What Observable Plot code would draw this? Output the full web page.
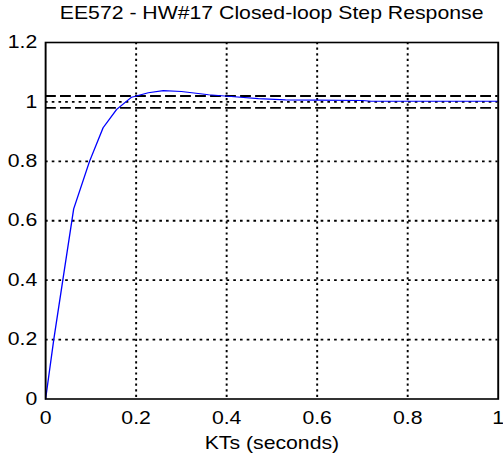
<!DOCTYPE html>
<html>
<head>
<meta charset="utf-8">
<script src="https://cdn.jsdelivr.net/npm/d3@7"></script>
<script src="https://cdn.jsdelivr.net/npm/@observablehq/plot@0.6"></script>
<style>
  html, body { margin: 0; padding: 0; background: #fff; }
  #wrap { width: 419px; transform: scaleX(1.2005); transform-origin: 0 0; font-family: "Liberation Sans", Arial, sans-serif; }
  #title { height: 30px; line-height: 26px; font-size: 17.7px; color: #000; text-align: center; padding-left: 37.5px; padding-right: 4px; box-sizing: border-box; white-space: nowrap; }
</style>
</head>
<body>
<div id="wrap">
  <div id="title">EE572 - HW#17 Closed-loop Step Response</div>
  <div id="chart"></div>
</div>
<script>
const titleText = "EE572 - HW#17 Closed-loop Step Response";
const xLabel = "KTs (seconds)";
const time = [0, 0.018, 0.038, 0.062, 0.097, 0.127, 0.157, 0.19, 0.227, 0.26, 0.30, 0.36, 0.41, 0.47, 0.53, 0.60, 0.70, 0.72, 0.85, 1.0];
const response = [0, 0.2, 0.40, 0.64, 0.80, 0.913, 0.975, 1.016, 1.031, 1.038, 1.035, 1.024, 1.018, 1.011, 1.007, 1.006, 1.005, 1.002, 1.002, 1.002];
const bandLimits = [0.98, 1.02];
const xTicks = [0, 0.2, 0.4, 0.6, 0.8, 1];
const yTicks = [0, 0.2, 0.4, 0.6, 0.8, 1, 1.2];
const xGrid = [0.2, 0.4, 0.6, 0.8];
const yGrid = [0.2, 0.4, 0.6, 0.8, 1];

const data = time.map((t, i) => ({t, v: response[i]}));

const chart = Plot.plot({
  width: 419,
  height: 427,
  marginLeft: 37.5,
  marginRight: 4.5,
  marginTop: 12,
  marginBottom: 58.5,
  style: {fontFamily: "'Liberation Sans', Arial, sans-serif", fontSize: "17.7px", color: "#000", background: "#fff"},
  x: {domain: [0, 1]},
  y: {domain: [0, 1.2]},
  marks: [
    Plot.gridX(xGrid, {stroke: "black", strokeOpacity: 1, strokeWidth: 1.6, strokeDasharray: "2.2,3.4"}),
    Plot.gridY(yGrid, {stroke: "black", strokeOpacity: 1, strokeWidth: 1.8, strokeDasharray: "2.2,3.4"}),
    Plot.ruleY(bandLimits, {stroke: "black", strokeWidth: 1.8, strokeDasharray: "9,3.5"}),
    Plot.line(data, {x: "t", y: "v", stroke: "#0000ff", strokeWidth: 1.1}),
    Plot.frame({stroke: "black", strokeWidth: 1.6}),
    Plot.axisX(xTicks, {tickSize: 0, tickPadding: 12, tickFormat: d => String(d), label: null}),
    Plot.axisY(yTicks, {tickSize: 0, tickPadding: 7, tickFormat: d => String(d), label: null}),
    Plot.text([xLabel], {frameAnchor: "bottom", lineAnchor: "middle", dy: 44.5, fill: "black", fontSize: 17.7})
  ]
});
document.getElementById("chart").appendChild(chart);
</script>
</body>
</html>
